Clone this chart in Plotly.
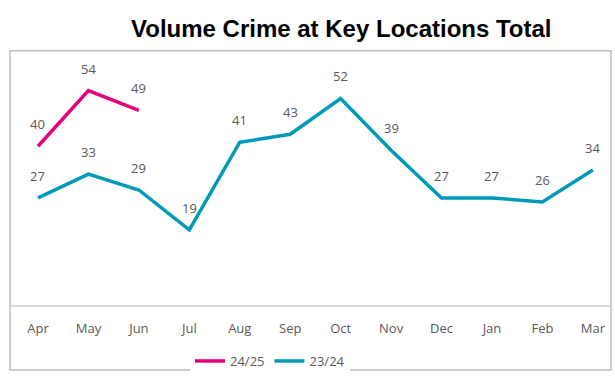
import plotly.graph_objects as go

# Monthly volume crime counts at key locations
months = ["Apr", "May", "Jun", "Jul", "Aug", "Sep", "Oct", "Nov", "Dec", "Jan", "Feb", "Mar"]
fy_2425 = [40, 54, 49]
fy_2324 = [27, 33, 29, 19, 41, 43, 52, 39, 27, 27, 26, 34]

PINK = "#E5007D"
TEAL = "#009AB9"
LABEL_GREY = "#595959"
FONT = "Open Sans, Noto Sans, sans-serif"

W, H = 615, 376

fig = go.Figure()
fig.add_trace(go.Scatter(
    x=list(range(len(fy_2425))), y=fy_2425, mode="lines", name="24/25",
    line=dict(color=PINK, width=3.5),
))
fig.add_trace(go.Scatter(
    x=list(range(len(fy_2324))), y=fy_2324, mode="lines", name="23/24",
    line=dict(color=TEAL, width=3.5),
))

# value labels above each point
annotations = []
for series in (fy_2425, fy_2324):
    for i, v in enumerate(series):
        annotations.append(dict(
            x=i, y=v, xref="x", yref="y", text=str(v), showarrow=False,
            yshift=22, font=dict(family=FONT, size=13, color=LABEL_GREY),
        ))

# chart title
annotations.append(dict(
    x=341 / W, y=1 - 29 / H, xref="paper", yref="paper",
    text="<b>Volume Crime at Key Locations Total</b>", showarrow=False,
    xanchor="center", yanchor="middle",
    font=dict(family="Liberation Sans, Arial, sans-serif", size=24, color="#000000"),
))

fig.update_layout(
    width=W, height=H,
    margin=dict(l=0, r=0, t=0, b=0),
    paper_bgcolor="white", plot_bgcolor="white",
    showlegend=True,
    legend=dict(
        orientation="h", x=270 / W, y=1 - 363 / H, xanchor="center", yanchor="middle",
        font=dict(family=FONT, size=13, color=LABEL_GREY),
        itemwidth=30, tracegroupgap=0,
    ),
    xaxis=dict(
        domain=[11 / W, 610 / W],
        range=[-0.535, 11.34],
        tickmode="array", tickvals=list(range(len(months))), ticktext=months,
        showgrid=False, zeroline=False,
        showline=True, linecolor="#D9D9D9", linewidth=1.5,
        ticks="", ticklabelstandoff=10,
        tickfont=dict(family=FONT, size=13, color=LABEL_GREY),
    ),
    yaxis=dict(
        domain=[(H - 307) / H, (H - 55) / H],
        range=[0, 63],
        showgrid=False, zeroline=False, showticklabels=False, showline=False,
    ),
    annotations=annotations,
    shapes=[dict(
        type="rect", xref="paper", yref="paper",
        x0=10 / W, x1=611 / W, y0=1 - 372 / H, y1=1 - 51 / H,
        line=dict(color="#BFBFBF", width=1.5), fillcolor="rgba(0,0,0,0)",
    )],
)

fig.write_html("out.html")
